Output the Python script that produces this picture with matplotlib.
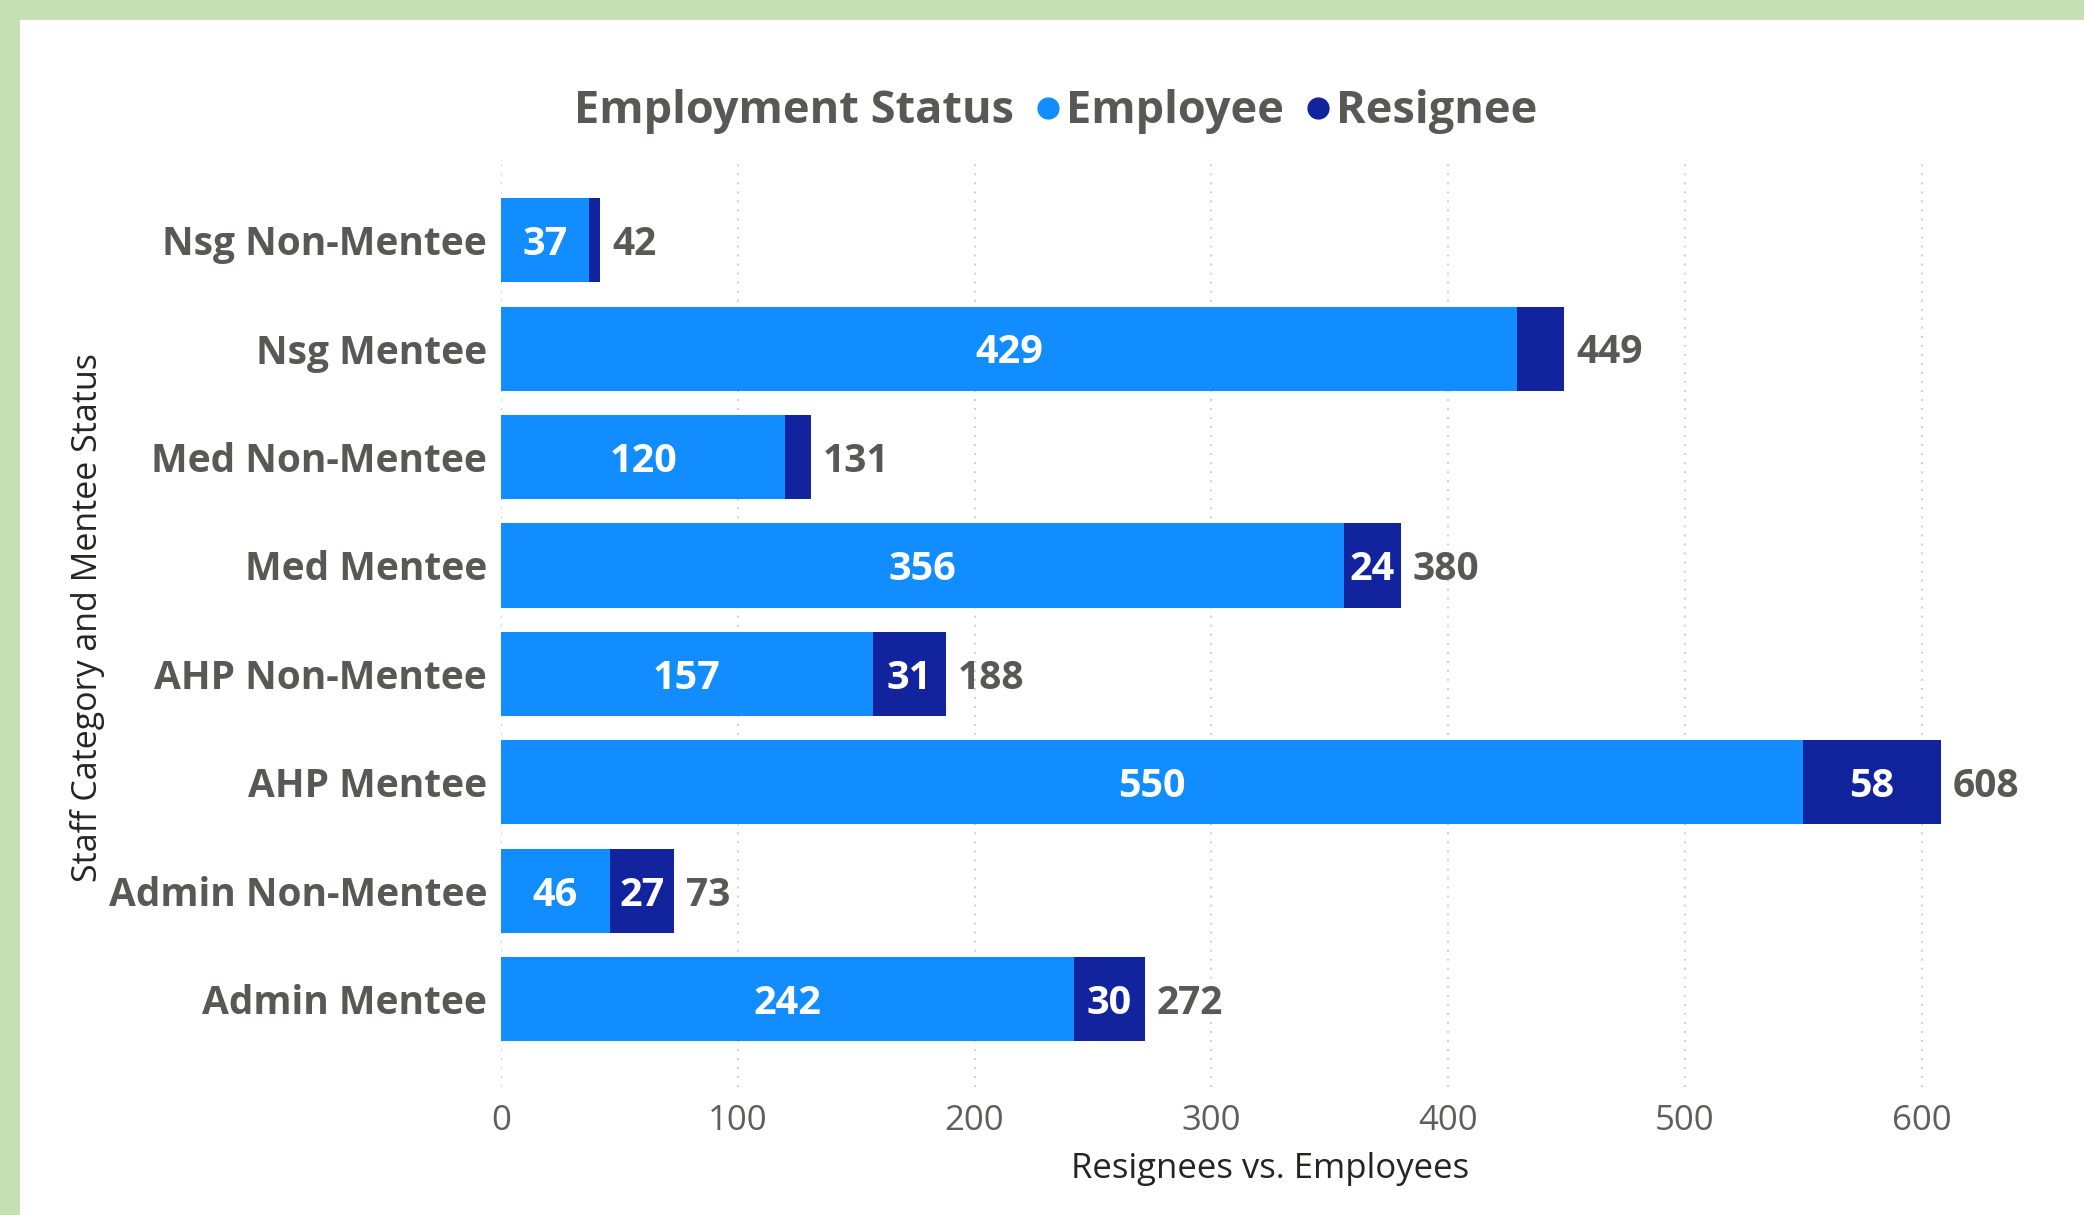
import matplotlib.pyplot as plt
from matplotlib.lines import Line2D

# Data (bottom to top)
categories = ['Admin Mentee', 'Admin Non-Mentee', 'AHP Mentee', 'AHP Non-Mentee',
              'Med Mentee', 'Med Non-Mentee', 'Nsg Mentee', 'Nsg Non-Mentee']
employees = [242, 46, 550, 157, 356, 120, 429, 37]
resignees = [30, 27, 58, 31, 24, 11, 20, 5]
x_ticks = [0, 100, 200, 300, 400, 500, 600]

emp_color = '#118DFF'
res_color = '#12239E'
text_gray = '#605E5C'
label_gray = '#5A5856'

plt.rcParams['font.family'] = ['Open Sans', 'DejaVu Sans']

fig = plt.figure(figsize=(20.84, 12.15), dpi=100)
fig.patch.set_facecolor('#C5E0B4')

# white report panel
bg = fig.add_axes([20 / 2084, 0, 1 - 20 / 2084, 1 - 20 / 1215], zorder=0)
bg.set_facecolor('white')
bg.set_xticks([])
bg.set_yticks([])
for s in bg.spines.values():
    s.set_visible(False)

ax = fig.add_axes([501 / 2084, 1 - 1087 / 1215, (2040 - 501) / 2084, (1087 - 160) / 1215], zorder=2)
ax.set_facecolor('none')

y = list(range(len(categories)))
bar_h = 0.775
ax.barh(y, employees, height=bar_h, color=emp_color, zorder=2)
ax.barh(y, resignees, left=employees, height=bar_h, color=res_color, zorder=2)

dy = -0.04  # labels sit a touch below bar centre
for i in y:
    e, r = employees[i], resignees[i]
    ax.text(e / 2, i + dy, str(e), ha='center', va='center', color='white',
            fontsize=28.5, fontweight='bold', zorder=3)
    if r >= 22:
        ax.text(e + r / 2, i + dy, str(r), ha='center', va='center', color='white',
                fontsize=28.5, fontweight='bold', zorder=3)
    ax.text(e + r + 5, i + dy, str(e + r), ha='left', va='center', color=label_gray,
            fontsize=28, fontweight='bold', zorder=3)

ax.set_xlim(0, 650)
ax.set_ylim(-0.81, 7.74)
ax.set_xticks(x_ticks)
ax.set_xticklabels([str(t) for t in x_ticks], fontsize=25, color=text_gray)
ax.set_yticks(y)
ax.set_yticklabels(categories, fontsize=28, fontweight='bold', color=label_gray)
ax.tick_params(axis='both', length=0)
ax.tick_params(axis='y', pad=10)
ax.tick_params(axis='x', pad=12)
ax.grid(axis='x', linestyle=(0, (1, 4)), color='#C8C8C8', linewidth=1.3, zorder=1)
for s in ax.spines.values():
    s.set_visible(False)

ax.set_xlabel('Resignees vs. Employees', fontsize=25, color='#252423', labelpad=10)
fig.text(88 / 2084, 1 - 618 / 1215, 'Staff Category and Mentee Status', rotation=90,
         ha='center', va='center', fontsize=24.5, color='#252423', zorder=3)

# Legend with title on one line
handles = [Line2D([], [], linestyle='none', marker='o', markersize=0, color='none'),
           Line2D([], [], linestyle='none', marker='o', markersize=15, color=emp_color),
           Line2D([], [], linestyle='none', marker='o', markersize=15, color=res_color)]
leg = fig.legend(handles, ['Employment Status', 'Employee', 'Resignee'], ncol=3,
                 loc='center', bbox_to_anchor=(1041 / 2084, 1 - 112 / 1215),
                 frameon=False, handlelength=0.5, handletextpad=0.15, columnspacing=0.5,
                 prop={'size': 32.5, 'weight': 'bold'})
leg.set_zorder(3)
for t in leg.get_texts():
    t.set_color(label_gray)

fig.savefig('out.png', dpi=100, facecolor=fig.get_facecolor())
